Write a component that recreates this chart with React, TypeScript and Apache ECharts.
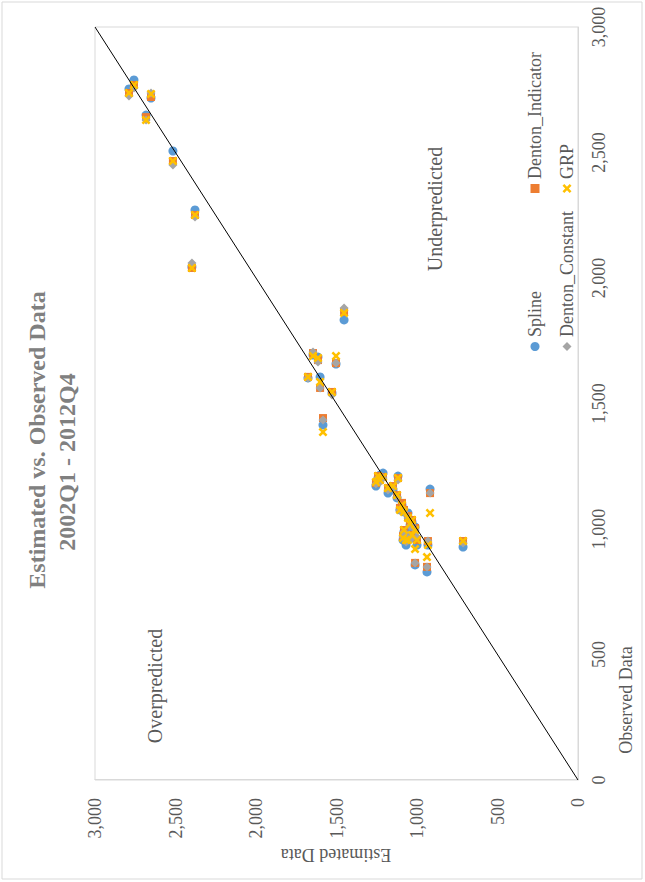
import React, { useEffect, useRef } from "react";
import * as echarts from "echarts";

// Series (legend order)
const seriesNames = ["Spline", "Denton_Indicator", "Denton_Constant", "GRP"];
const seriesColors = ["#5B9BD5", "#ED7D31", "#A5A5A5", "#FFC000"];

// Shared value of each quarter (drawn on the "Estimated Data" axis as in the picture)
const observed = [2758, 2789, 2652, 2683, 2516, 2379, 2398, 1453, 1646, 1615, 1503, 1677, 1602, 1528, 1584, 1230, 1255, 1118, 1180, 919, 1124, 1093, 1106, 1056, 1031, 1012, 1056, 1068, 1000, 932, 714, 938, 1012, 1211, 1149, 1081, 1043, 1081, 1031, 1242, 1087];
// Per-method values (drawn on the "Observed Data" axis as in the picture)
const spline = [2789, 2753, 2717, 2649, 2506, 2271, 2044, 1833, 1693, 1685, 1657, 1602, 1606, 1542, 1414, 1215, 1171, 1211, 1143, 1159, 1124, 1096, 1076, 1064, 1028, 1008, 996, 936, 936, 936, 928, 829, 857, 1223, 1155, 1068, 1016, 988, 964, 1203, 956];
const dentonIndicator = [2769, 2737, 2721, 2641, 2466, 2251, 2040, 1865, 1701, 1673, 1661, 1606, 1562, 1546, 1442, 1195, 1183, 1203, 1163, 1143, 1135, 1104, 1084, 1052, 1036, 1004, 976, 956, 956, 952, 952, 849, 865, 1207, 1171, 1076, 1020, 996, 972, 1211, 972];
const dentonConstant = [2757, 2725, 2737, 2629, 2450, 2243, 2060, 1880, 1705, 1665, 1661, 1602, 1562, 1534, 1434, 1187, 1179, 1195, 1155, 1143, 1127, 1084, 1076, 1044, 1016, 996, 976, 948, 968, 952, 944, 849, 865, 1203, 1163, 1068, 1012, 988, 964, 1203, 968];
const grp = [2769, 2737, 2733, 2629, 2466, 2251, 2040, 1861, 1689, 1681, 1689, 1606, 1586, 1546, 1386, 1195, 1187, 1203, 1163, 1064, 1135, 1096, 1076, 1044, 1036, 996, 956, 956, 956, 936, 952, 888, 920, 1207, 1171, 1068, 1020, 996, 976, 1211, 964];

const axisTicks = [0, 500, 1000, 1500, 2000, 2500, 3000];
const diagonal = [[0, 0], [3000, 3000]];

const FONT = "'Liberation Serif', 'Times New Roman', serif";
const xSymbol = "path://M2,0 L5,3 L8,0 L10,2 L7,5 L10,8 L8,10 L5,7 L2,10 L0,8 L3,5 L0,2 Z";

export default function App() {
  const ref = useRef<HTMLDivElement>(null);

  useEffect(() => {
    if (!ref.current) return;
    const chart = echarts.init(ref.current, undefined, { renderer: "svg" });
    const valuesBySeries = [spline, dentonIndicator, dentonConstant, grp];
    const symbols = ["circle", "rect", "diamond", xSymbol];
    const sizes = [9, 8, 9, 9];
    const fmt = (v: number) => v.toLocaleString("en-US");

    const scatter = seriesNames.map((name, i) => ({
      name,
      type: "scatter",
      symbol: symbols[i],
      symbolSize: sizes[i],
      itemStyle: { color: seriesColors[i], opacity: 1 },
      data: valuesBySeries[i].map((v, k) => [v, observed[k]]),
      z: 2 + i,
    }));

    const legendCommon = {
      orient: "vertical",
      itemWidth: 9,
      itemHeight: 9,
      itemGap: 14,
      textStyle: { fontFamily: FONT, fontSize: 18, color: "#595959" },
    };

    chart.setOption({
      animation: false,
      backgroundColor: "#ffffff",
      grid: {
        left: 102,
        right: 27,
        top: 95,
        bottom: 67,
        show: true,
        borderColor: "#d9d9d9",
        borderWidth: 1,
      },
      xAxis: {
        type: "value",
        min: axisTicks[0],
        max: axisTicks[axisTicks.length - 1],
        interval: 500,
        axisLine: { show: true, lineStyle: { color: "#d9d9d9" } },
        axisTick: { show: false },
        splitLine: { show: false },
        axisLabel: { formatter: fmt, fontFamily: FONT, fontSize: 18, color: "#595959", margin: 12 },
      },
      yAxis: {
        type: "value",
        min: axisTicks[0],
        max: axisTicks[axisTicks.length - 1],
        interval: 500,
        axisLine: { show: true, lineStyle: { color: "#d9d9d9" } },
        axisTick: { show: false },
        splitLine: { show: false },
        axisLabel: { formatter: fmt, fontFamily: FONT, fontSize: 18, color: "#595959", margin: 18 },
      },
      legend: [
        { ...legendCommon, data: ["Spline", "Denton_Constant"], left: 526, top: 521 },
        { ...legendCommon, data: ["Denton_Indicator", "GRP"], left: 684, top: 521 },
      ],
      series: [
        ...scatter,
        {
          name: "diagonal",
          type: "line",
          data: diagonal,
          symbol: "none",
          silent: true,
          lineStyle: { color: "#000000", width: 1 },
          z: 10,
        },
      ],
      graphic: [
        {
          type: "rect",
          shape: { x: 3, y: 2, width: 877, height: 640 },
          style: { fill: "none", stroke: "#d9d9d9", lineWidth: 1 },
          silent: true,
        },
        {
          type: "text",
          x: 442,
          y: 37,
          style: {
            text: "Estimated vs. Observed Data",
            font: `bold 24px ${FONT}`,
            fill: "#808080",
            textAlign: "center",
            textVerticalAlign: "middle",
          },
        },
        {
          type: "text",
          x: 420,
          y: 67,
          style: {
            text: "2002Q1 - 2012Q4",
            font: `bold 24px ${FONT}`,
            fill: "#808080",
            textAlign: "center",
            textVerticalAlign: "middle",
          },
        },
        {
          type: "text",
          x: 27,
          y: 336,
          rotation: Math.PI / 2,
          style: {
            text: "Estimated Data",
            font: `18px ${FONT}`,
            fill: "#595959",
            textAlign: "center",
            textVerticalAlign: "middle",
          },
        },
        {
          type: "text",
          x: 182,
          y: 626,
          style: {
            text: "Observed Data",
            font: `18px ${FONT}`,
            fill: "#595959",
            textAlign: "center",
            textVerticalAlign: "middle",
          },
        },
        {
          type: "text",
          x: 196,
          y: 155,
          style: {
            text: "Overpredicted",
            font: `20px ${FONT}`,
            fill: "#595959",
            textAlign: "center",
            textVerticalAlign: "middle",
          },
        },
        {
          type: "text",
          x: 673,
          y: 435,
          style: {
            text: "Underpredicted",
            font: `20px ${FONT}`,
            fill: "#595959",
            textAlign: "center",
            textVerticalAlign: "middle",
          },
        },
      ],
    });

    return () => chart.dispose();
  }, []);

  return (
    <div
      style={{
        position: "absolute",
        left: 0,
        top: 0,
        width: 645,
        height: 882,
        overflow: "hidden",
        background: "#ffffff",
      }}
    >
      <div
        ref={ref}
        style={{
          position: "absolute",
          left: 0,
          top: 0,
          width: 882,
          height: 645,
          transformOrigin: "0 0",
          transform: "translate(0px, 882px) rotate(-90deg)",
        }}
      />
    </div>
  );
}
